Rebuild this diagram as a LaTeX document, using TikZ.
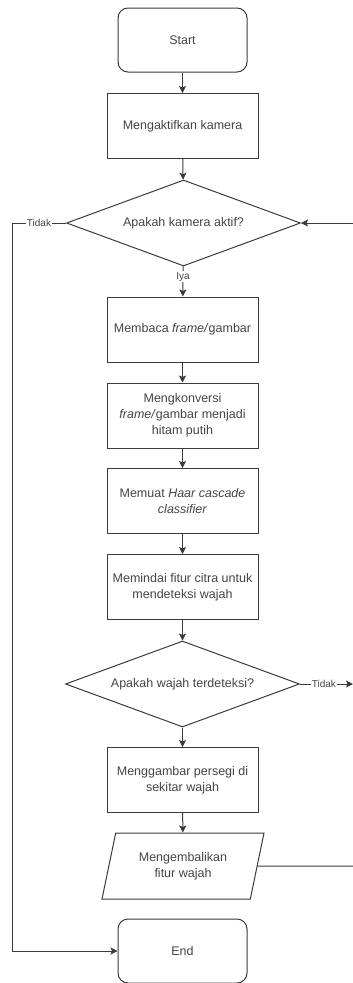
\documentclass[tikz,border=0pt]{standalone}
\usepackage{fontspec}
\setmainfont{Liberation Sans}
\usetikzlibrary{shapes.geometric,arrows.meta}
\definecolor{linec}{HTML}{3A3A3A}
\definecolor{textc}{HTML}{444444}
\begin{document}
\begin{tikzpicture}[x=1pt,y=-1pt,
  base/.style={draw=linec,line width=1pt,inner sep=0pt,text=textc,align=center,
    font=\fontsize{12.5}{16}\selectfont},
  term/.style={base,rectangle,rounded corners=10pt,minimum width=129pt,minimum height=64pt},
  proc/.style={base,rectangle,minimum width=151pt,minimum height=65pt},
  dec/.style={base,diamond,aspect=2.7,minimum width=234pt,minimum height=86pt},
  io/.style={base,trapezium,trapezium left angle=72,trapezium right angle=108,
    trapezium stretches=true,minimum width=162pt,minimum height=66pt},
  conn/.style={draw=linec,line width=1pt,-{Stealth[length=7pt,width=7pt,inset=1.5pt]}},
  plain/.style={draw=linec,line width=1pt},
  lab/.style={fill=white,inner sep=1pt,text=textc,font=\fontsize{10}{12}\selectfont}
]
\useasboundingbox (0,0) rectangle (353,983);
\node[term] (start) at (182.5,40) {Start};
\node[proc] (act) at (182.5,126) {Mengaktifkan kamera};
\node[dec] (d1) at (183.5,223) {Apakah kamera aktif?};
\node[proc] (read) at (182.5,329.5) {Membaca \textit{frame/}gambar};
\node[proc] (conv) at (182.5,415.5) {Mengkonversi\\\textit{frame/}gambar menjadi\\hitam putih};
\node[proc] (load) at (182.5,501) {Memuat \textit{Haar cascade}\\\textit{classifier}};
\node[proc] (scan) at (182.5,587) {Memindai fitur citra untuk\\mendeteksi wajah};
\node[dec] (d2) at (182.5,684) {Apakah wajah terdeteksi?};
\node[proc] (drawsq) at (182.5,780) {Menggambar persegi di\\sekitar wajah};
\node[io] (ret) at (183,866) {Mengembalikan\\fitur wajah};
\node[term] (end) at (182.5,951) {End};

\coordinate (l1) at (12,223);
\coordinate (l2) at (12,951);
\coordinate (r1) at (353,223);
\coordinate (r2) at (353,684);
\coordinate (r3) at (353,866);

\draw[conn] (start) -- (act);
\draw[conn] (act) -- (d1);
\draw[conn] (d1) -- node[lab,pos=0.35] {Iya} (read);
\draw[conn] (read) -- (conv);
\draw[conn] (conv) -- (load);
\draw[conn] (load) -- (scan);
\draw[conn] (scan) -- (d2);
\draw[conn] (d2) -- (drawsq);
\draw[conn] (drawsq) -- (ret);
\draw[conn] (d1.west) -- node[lab] {Tidak} (l1) -- (l2) -- (end.west);
\draw[conn] (r1) -- (d1.east);
\draw[conn] (d2.east) -- node[lab,pos=0.45] {Tidak} (r2);
\draw[plain] (ret.east) -- (r3);
\end{tikzpicture}
\end{document}
